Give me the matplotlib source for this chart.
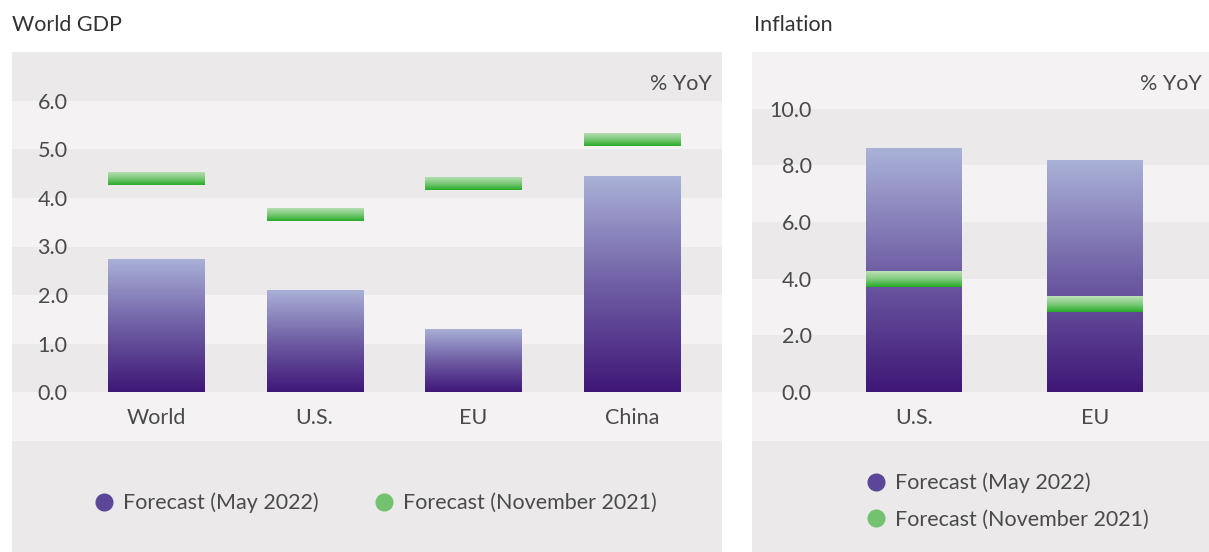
import numpy as np
import matplotlib.pyplot as plt
from matplotlib.colors import LinearSegmentedColormap
from matplotlib.patches import Rectangle
from matplotlib.lines import Line2D

plt.rcParams['font.family'] = ['Lato', 'DejaVu Sans']

# data
gdp_labels = ['World', 'U.S.', 'EU', 'China']
gdp_may22 = [2.75, 2.1, 1.3, 4.45]
gdp_nov21 = [4.4, 3.65, 4.3, 5.2]
gdp_ticks = [0, 1, 2, 3, 4, 5, 6]

inf_labels = ['U.S.', 'EU']
inf_may22 = [8.6, 8.2]
inf_nov21 = [4.0, 3.1]
inf_ticks = [0, 2, 4, 6, 8, 10]

dark_bg = '#ebe9ea'
light_bg = '#f4f2f3'
txt = '#4a4a4a'
fs = 15.5

purple = LinearSegmentedColormap.from_list('p', ['#3f1777', '#705fa5', '#aab2d8'])
green = LinearSegmentedColormap.from_list('g', ['#27ab27', '#7fca7c', '#bde1b8'])
grad = np.linspace(0, 1, 256).reshape(-1, 1)

W, H = 1209, 552
fig = plt.figure(figsize=(W / 100, H / 100), dpi=100)


def px_rect(x0, y0, x1, y1):
    return [x0 / W, 1 - y1 / H, (x1 - x0) / W, (y1 - y0) / H]


def fill_gradient(ax, bars, cmap):
    for b in bars:
        x, y = b.get_x(), b.get_y()
        w, h = b.get_width(), b.get_height()
        im = ax.imshow(grad, extent=[x, x + w, y, y + h], origin='lower',
                       aspect='auto', cmap=cmap, zorder=b.get_zorder())
        im.set_clip_path(b)
        b.set_facecolor('none')


def panel(rect, labels, may, nov, ticks, ylim, xlim, width, thick, bands, ypad):
    ax = fig.add_axes(px_rect(*rect))
    for i, (a, b) in enumerate(bands):
        ax.axhspan(a, b, color=light_bg if i % 2 == 0 else dark_bg, lw=0, zorder=0)
    x = np.arange(len(labels))
    b1 = ax.bar(x, may, width=width, zorder=2, lw=0)
    fill_gradient(ax, b1, purple)
    b2 = ax.bar(x, thick, bottom=np.array(nov) - thick / 2, width=width, zorder=3, lw=0)
    fill_gradient(ax, b2, green)
    ax.set_xlim(*xlim)
    ax.set_ylim(*ylim)
    ax.set_yticks(ticks)
    ax.set_yticklabels([f'{t:.1f}' for t in ticks])
    ax.set_xticks(x)
    ax.set_xticklabels(labels)
    ax.tick_params(axis='y', length=0, pad=ypad, labelsize=fs, labelcolor=txt)
    ax.tick_params(axis='x', length=0, pad=-24, labelsize=fs, labelcolor=txt)
    for s in ax.spines.values():
        s.set_visible(False)
    ax.text(0.985, 0.918, '% YoY', transform=ax.transAxes, ha='right', va='center',
            fontsize=fs, color=txt)
    return ax


# World GDP panel
fig.patches.append(Rectangle((12 / W, 0), 710 / W, 1 - 441 / H, transform=fig.transFigure,
                             color=dark_bg, lw=0, zorder=0))
panel((12, 52, 722, 441), gdp_labels, gdp_may22, gdp_nov21, gdp_ticks,
      (-1, 7), (-0.907, 3.567), 0.605, 0.27,
      [(-1, 0), (0, 1), (1, 2), (2, 3), (3, 4), (4, 5), (5, 6), (6, 7)], -40)

# Inflation panel
fig.patches.append(Rectangle((752 / W, 0), 457 / W, 1 - 441 / H, transform=fig.transFigure,
                             color=dark_bg, lw=0, zorder=0))
panel((752, 52, 1209, 441), inf_labels, inf_may22, inf_nov21, inf_ticks,
      (-1.73, 12), (-0.895, 1.63), 0.53, 0.56,
      [(-1.73, 0), (0, 2), (2, 4), (4, 6), (6, 8), (8, 10), (10, 12)], -43)

fig.text(12 / W, 1 - 25 / H, 'World GDP', fontsize=fs, color='#333333', va='center')
fig.text(754 / W, 1 - 25 / H, 'Inflation', fontsize=fs, color='#333333', va='center')

handles = [Line2D([], [], marker='o', ls='', markersize=12, color='#5b4699'),
           Line2D([], [], marker='o', ls='', markersize=12, color='#72c26f')]
names = ['Forecast (May 2022)', 'Forecast (November 2021)']
fig.legend(handles, names, loc='center', bbox_to_anchor=(374 / W, 1 - 503 / H), ncol=2,
           frameon=False, fontsize=fs, labelcolor=txt, handletextpad=0.3,
           columnspacing=2.4, handlelength=1.2)
fig.legend(handles, names, loc='center', bbox_to_anchor=(1006 / W, 1 - 501 / H), ncol=1,
           frameon=False, fontsize=fs, labelcolor=txt, handletextpad=0.3,
           labelspacing=0.75, handlelength=1.2)

fig.savefig('out.png', dpi=100, facecolor='white')
